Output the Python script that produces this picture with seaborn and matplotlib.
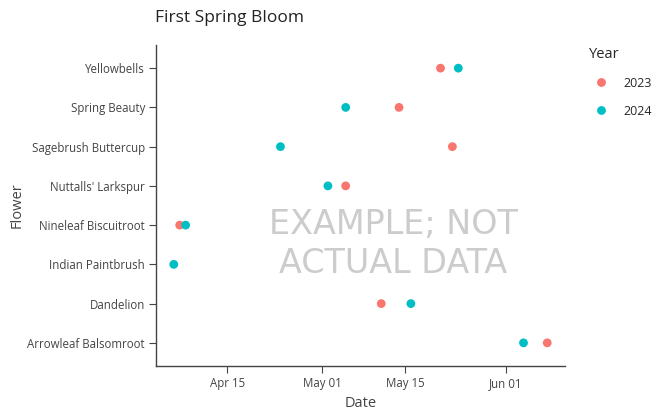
import matplotlib
matplotlib.use("Agg")
import matplotlib.pyplot as plt
import matplotlib.dates as mdates
import seaborn as sns
import pandas as pd

flowers = ["Yellowbells", "Spring Beauty", "Sagebrush Buttercup", "Nuttalls' Larkspur",
           "Nineleaf Biscuitroot", "Indian Paintbrush", "Dandelion", "Arrowleaf Balsomroot"]
bloom_2023 = ["2023-05-21", "2023-05-14", "2023-05-23", "2023-05-05",
              "2023-04-07", None, "2023-05-11", "2023-06-08"]
bloom_2024 = ["2024-05-24", "2024-05-05", "2024-04-24", "2024-05-02",
              "2024-04-08", "2024-04-06", "2024-05-16", "2024-06-04"]

rows = []
for f, a, b in zip(flowers, bloom_2023, bloom_2024):
    if a: rows.append((f, "2023", pd.Timestamp(a).replace(year=2000)))
    if b: rows.append((f, "2024", pd.Timestamp(b).replace(year=2000)))
df = pd.DataFrame(rows, columns=["Flower", "Year", "Date"])

sns.set_style("white")
plt.rcParams['font.family'] = ['Open Sans', 'DejaVu Sans']
fig = plt.figure(figsize=(6.61, 4.09), dpi=100)
ax = fig.add_axes([156/661, 1-366/409, (565-156)/661, (366-45)/409])
sns.scatterplot(data=df, x="Date", y="Flower", hue="Year", hue_order=["2023", "2024"],
                palette=["#F8766D", "#00BFC4"], s=40, edgecolor="none", ax=ax)
ax.set_ylim(len(flowers)-0.41, -0.59)
ax.set_xlim(pd.Timestamp("2000-04-03"), pd.Timestamp("2000-06-11"))
ax.set_xticks([pd.Timestamp(d) for d in ["2000-04-15", "2000-05-01", "2000-05-15", "2000-06-01"]])
ax.xaxis.set_major_formatter(mdates.DateFormatter("%b %d"))
for s in ["top", "right"]:
    ax.spines[s].set_visible(False)
for s in ["left", "bottom"]:
    ax.spines[s].set_color("#444444"); ax.spines[s].set_linewidth(1)
ax.tick_params(axis="both", length=5, color="#444444", labelsize=8.3, labelcolor="#444444",
               bottom=True, left=True, pad=3)
ax.set_xlabel("Date", fontsize=10.5, color="#444444", labelpad=4)
ax.set_ylabel("Flower", fontsize=10.5, color="#444444", labelpad=2)
fig.text(155/661, 1-18/409, "First Spring Bloom", fontsize=12.5, color="#222222", va="center")
ax.text(0.58, 0.38, "EXAMPLE; NOT\nACTUAL DATA", transform=ax.transAxes, fontsize=24,
        family="DejaVu Sans", color="#cccccc", ha="center", va="center", linespacing=1.25, zorder=0)
leg = ax.legend(title="Year", loc="upper left", bbox_to_anchor=(1.03, 1.03), frameon=False,
                fontsize=9, title_fontsize=10.5, labelspacing=1.2)
leg._legend_box.align = "left"
fig.savefig("out.png", dpi=100)
